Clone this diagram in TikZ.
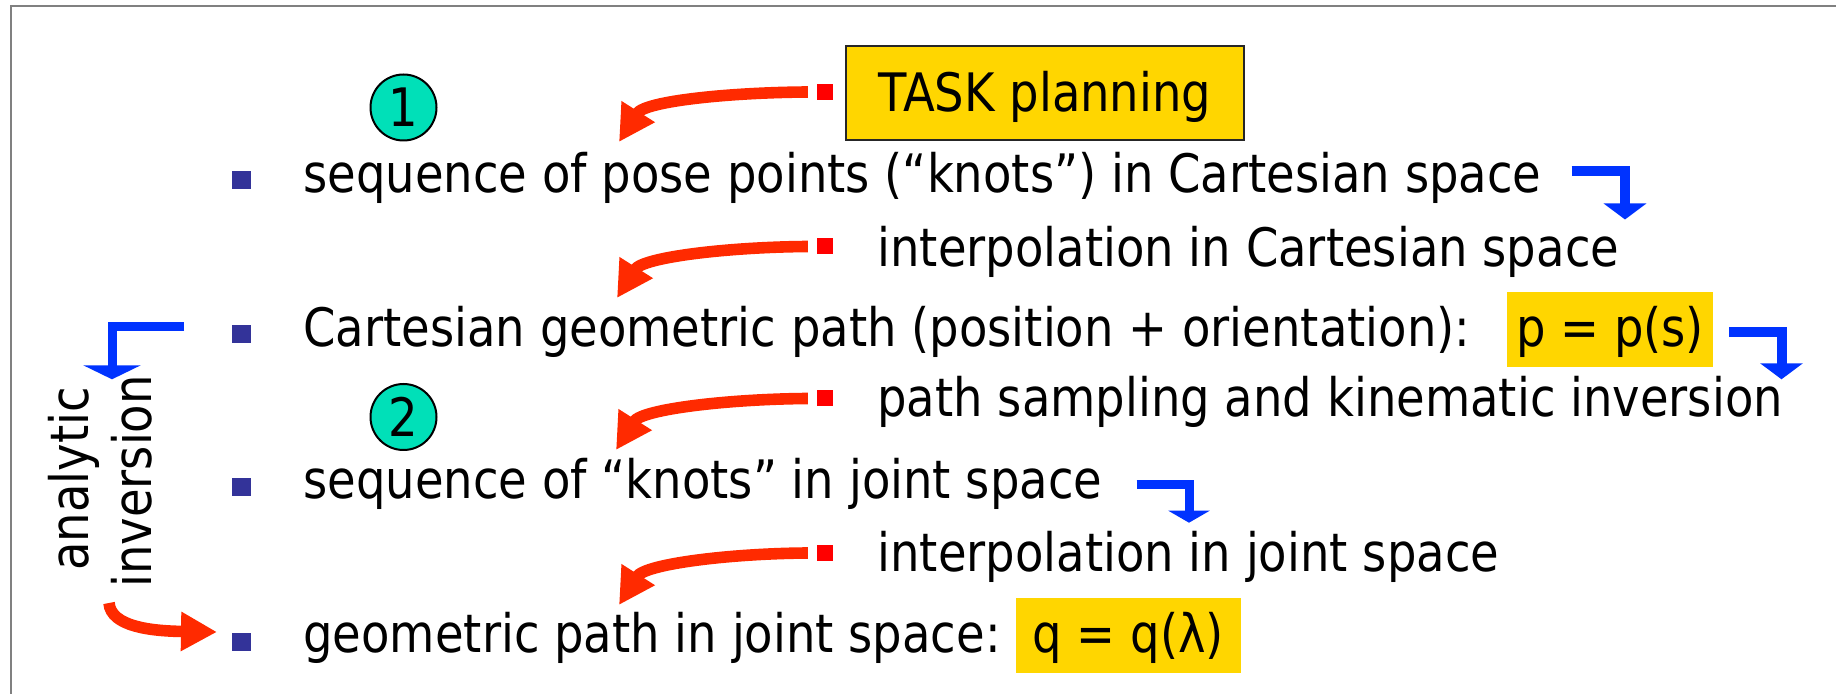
\documentclass[tikz,border=0pt]{standalone}
\usepackage{fontspec}
\setmainfont{DejaVu Sans}[FakeStretch=0.877]
\usetikzlibrary{arrows.meta}
\definecolor{gold}{RGB}{255,214,0}
\definecolor{turq}{RGB}{0,224,184}
\definecolor{bulblue}{RGB}{51,51,153}
\definecolor{sqred}{RGB}{255,0,0}
\definecolor{arrred}{RGB}{255,42,0}
\definecolor{arrblue}{RGB}{0,51,255}
\definecolor{framegray}{RGB}{128,128,128}
\newcommand\mainfs{\fontsize{26.5pt}{32pt}\selectfont}
\begin{document}
\begin{tikzpicture}[x=0.5pt,y=-0.5pt,
  frame/.style={draw=framegray, line width=1pt},
  txt/.style={anchor=base west, inner sep=0pt, font=\mainfs},
  vtxt/.style={rotate=90, anchor=base, inner sep=0pt, font=\mainfs},
  bul/.style={fill=bulblue, minimum width=9.5pt, minimum height=9pt, inner sep=0pt},
  rsq/.style={fill=sqred, minimum width=8.3pt, minimum height=8pt, inner sep=0pt},
  numc/.style={circle, draw=black, line width=1pt, fill=turq, minimum size=33pt, inner sep=0pt, font=\mainfs},
  hl/.style={fill=gold, inner sep=0pt, anchor=base, font=\mainfs, text height=27.4pt, text depth=9.8pt},
  taskbox/.style={fill=gold, draw=black!85, line width=1pt, inner sep=0pt, anchor=base, font=\mainfs, text height=33pt, text depth=14pt, minimum width=199pt},
  redarr/.style={draw=arrred, line width=5.8pt, -{Triangle[length=18pt,width=18.5pt]}},
  bluearr/.style={draw=arrblue, line width=5pt, line join=miter, -{Triangle[length=8pt,width=21pt]}}
]
\useasboundingbox (0,0) rectangle (1836,694);
\draw[frame] (10.5,700) -- (10.5,6) -- (1840,6);

% task
\node[taskbox] (task) at (1044.75,112) {TASK planning};
\node[rsq] (sqA) at (825,92) {};
\node[numc] (c1) at (403.5,107.5) {1};

% line 1
\node[bul] (b1) at (241.5,180) {};
\node[txt] (l1) at (303,193) {sequence of pose points (“knots”) in Cartesian space};

% line 2
\node[rsq] (sqB) at (825,246.5) {};
\node[txt] (l2) at (877,267) {interpolation in Cartesian space};

% line 3
\node[bul] (b3) at (241.5,334.5) {};
\node[txt] (l3) at (303,347) {Cartesian geometric path (position + orientation):};
\node[hl, minimum width=102.7pt] (pp) at (1610,347) {p = p(s)};

% line 4
\node[rsq] (sqC) at (825,398.5) {};
\node[txt] (l4) at (877,417) {path sampling and kinematic inversion};
\node[numc] (c2) at (403.5,417) {2};

% line 5
\node[bul] (b5) at (241.5,487.5) {};
\node[txt] (l5) at (303,499) {sequence of “knots” in joint space};

% line 6
\node[rsq] (sqD) at (825,553) {};
\node[txt] (l6) at (877,572) {interpolation in joint space};

% line 7
\node[bul] (b7) at (241.5,641.5) {};
\node[txt] (l7) at (303,653) {geometric path in joint space:};
\node[hl, minimum width=112.3pt] (qq) at (1128.3,653) {q = q(λ)};

% vertical label
\node[vtxt] (an) at (88.3,479) {analytic};
\node[vtxt] (inv) at (151.7,481.5) {inversion};

% red curved arrows
\coordinate (tA) at (619,142);
\coordinate (tB) at (617,298);
\coordinate (tC) at (616,450);
\coordinate (tD) at (619,605);
\draw[redarr] ([xshift=-4.25pt]sqA.west) .. controls +(-78,0.5) and +(26,-41) .. (tA);
\draw[redarr] ([xshift=-4.25pt]sqB.west) .. controls +(-78,0.5) and +(26,-41) .. (tB);
\draw[redarr] ([xshift=-4.25pt]sqC.west) .. controls +(-78,0.5) and +(26,-41) .. (tC);
\draw[redarr] ([xshift=-4.25pt]sqD.west) .. controls +(-78,0.5) and +(26,-41) .. (tD);

\coordinate (aiS) at (109,603);
\coordinate (aiT) at (217,632);
\draw[redarr] (aiS) .. controls +(2,24) and +(-65,-1) .. (aiT);

% blue elbow arrows
\coordinate (u1s) at (1571.5,171);
\coordinate (u1c) at (1625,171);
\coordinate (u1t) at (1625,219.5);
\draw[bluearr] (u1s) -- (u1c) -- (u1t);

\coordinate (u2s) at (1729.3,331.7);
\coordinate (u2c) at (1781.5,331.7);
\coordinate (u2t) at (1781.5,379.3);
\draw[bluearr] (u2s) -- (u2c) -- (u2t);

\coordinate (u3s) at (1136.7,484.5);
\coordinate (u3c) at (1189,484.5);
\coordinate (u3t) at (1189,522.7);
\draw[bluearr, line width=4.5pt, -{Triangle[length=6pt,width=20.5pt]}] (u3s) -- (u3c) -- (u3t);

\coordinate (u4s) at (184,327);
\coordinate (u4c) at (112,327);
\coordinate (u4t) at (112,379.3);
\draw[bluearr, line width=4.5pt, -{Triangle[length=7pt,width=28.5pt]}] (u4s) -- (u4c) -- (u4t);
\end{tikzpicture}
\end{document}
